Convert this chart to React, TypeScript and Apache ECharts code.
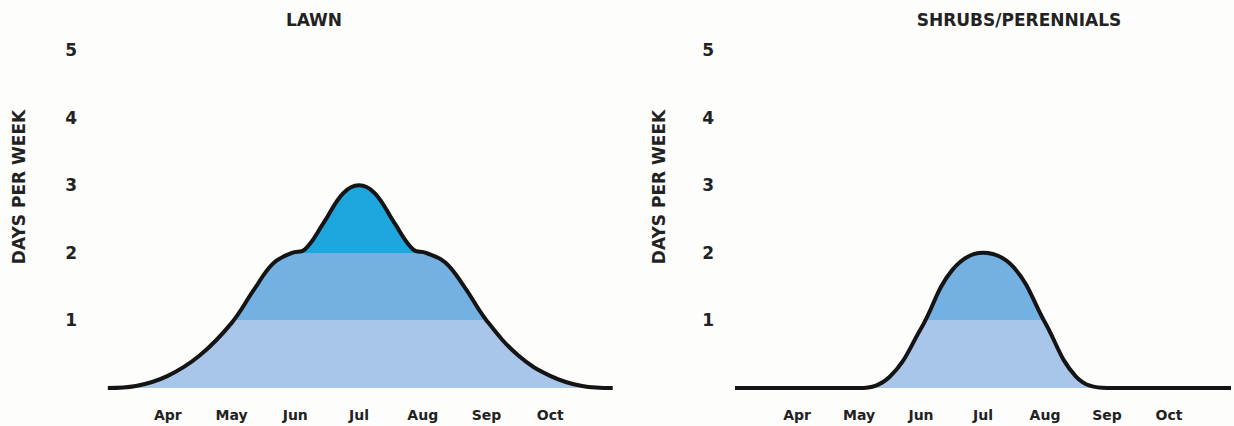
import { useEffect, useRef } from "react";
import * as echarts from "echarts";

// ---- data ----
const monthLabels = ["Mar", "Apr", "May", "Jun", "Jul", "Aug", "Sep", "Oct", "Nov"]; // month index 3..11
const panelTitles = ["LAWN", "SHRUBS/PERENNIALS"];
const yAxisTitle = "DAYS PER WEEK";
const yTickValues = [0, 1, 2, 3, 4, 5];

const lawnMonths = [3.06, 3.5, 4, 4.5, 5, 5.35, 5.65, 5.95, 6.15, 6.45, 6.75, 7, 7.25, 7.55, 7.85, 8.05, 8.35, 8.65, 9, 9.5, 10, 10.5, 10.98];
const lawnDays = [0.0, 0.03, 0.18, 0.48, 0.96, 1.45, 1.84, 2.0, 2.05, 2.45, 2.88, 3.0, 2.88, 2.45, 2.05, 2.0, 1.86, 1.5, 1.0, 0.48, 0.18, 0.03, 0.0];

const shrubMonths = [3, 4, 5, 5.5, 6, 6.5, 7, 7.5, 8, 8.5, 9, 10, 11];
const shrubDays = [0, 0, 0, 0.17, 0.88, 1.74, 2.0, 1.78, 0.97, 0.17, 0, 0, 0];

// ---- style ----
const FONT = "'DejaVu Sans', Verdana, sans-serif";
const TEXT = "#222222";
const DARK = "#1ea7df";
const MID = "#73b1e3";
const LIGHT = "#a8c5ea";
const LINE = "#141414";

const GRID_TOP = 50;
const GRID_H = 338;
const grids = [
  { left: 104, top: GRID_TOP, width: 510, height: GRID_H },
  { left: 735, top: GRID_TOP, width: 507, height: GRID_H },
];

function bandGradient() {
  const yMax = yTickValues[yTickValues.length - 1];
  const off = (v: number) => (yMax - v) / yMax;
  return {
    type: "linear",
    x: 0,
    y: GRID_TOP,
    x2: 0,
    y2: GRID_TOP + GRID_H,
    global: true,
    colorStops: [
      { offset: 0, color: DARK },
      { offset: off(2), color: DARK },
      { offset: off(2), color: MID },
      { offset: off(1), color: MID },
      { offset: off(1), color: LIGHT },
      { offset: 1, color: LIGHT },
    ],
  };
}

function zip(xs: number[], ys: number[]) {
  return xs.map((x, i) => [x, ys[i]]);
}

export default function App() {
  const ref = useRef<HTMLDivElement>(null);
  useEffect(() => {
    document.body.style.margin = "0";
    document.body.style.overflow = "hidden";
    if (!ref.current) return;
    const chart = echarts.init(ref.current, undefined, { renderer: "svg" });

    const xAxisBase = (gi: number) => ({
      type: "value",
      gridIndex: gi,
      min: 3,
      max: 11,
      interval: 1,
      axisLine: { show: false },
      axisTick: { show: false },
      splitLine: { show: false },
      axisLabel: {
        formatter: (v: number) => (v > 3 && v < 11 ? monthLabels[Math.round(v) - 3] : ""),
        fontFamily: FONT,
        fontWeight: "bold",
        fontSize: 14,
        color: TEXT,
        margin: 20,
      },
    });
    const yAxisBase = (gi: number, margin: number) => ({
      type: "value",
      gridIndex: gi,
      min: yTickValues[0],
      max: yTickValues[yTickValues.length - 1],
      interval: 1,
      axisLine: { show: false },
      axisTick: { show: false },
      splitLine: { show: false },
      axisLabel: {
        formatter: (v: number) => (v === 0 ? "" : String(v)),
        fontFamily: FONT,
        fontWeight: "bold",
        fontSize: 17,
        color: TEXT,
        margin,
      },
    });

    const textEl = (text: string, x: number, y: number, rotation = 0) => ({
      type: "text",
      x,
      y,
      rotation,
      style: {
        text,
        fill: TEXT,
        fontFamily: FONT,
        fontWeight: "bold",
        fontSize: 17,
        align: "center",
        verticalAlign: "middle",
      },
    });

    const seriesBase = (gi: number, data: number[][]) => ({
      type: "line",
      xAxisIndex: gi,
      yAxisIndex: gi,
      data,
      smooth: 0.4,
      symbol: "none",
      lineStyle: { color: LINE, width: 4 },
      areaStyle: { color: bandGradient(), opacity: 1 },
    });

    chart.setOption({
      animation: false,
      backgroundColor: "#fdfdfc",
      grid: grids,
      xAxis: [xAxisBase(0), xAxisBase(1)],
      yAxis: [yAxisBase(0, 27), yAxisBase(1, 21)],
      series: [seriesBase(0, zip(lawnMonths, lawnDays)), seriesBase(1, zip(shrubMonths, shrubDays))],
      graphic: [
        textEl(panelTitles[0], 314, 20),
        textEl(panelTitles[1], 1019, 20),
        textEl(yAxisTitle, 19, 187, Math.PI / 2),
        textEl(yAxisTitle, 659, 187, Math.PI / 2),
      ],
    });
    return () => chart.dispose();
  }, []);
  return <div ref={ref} style={{ width: 1234, height: 426 }} />;
}
